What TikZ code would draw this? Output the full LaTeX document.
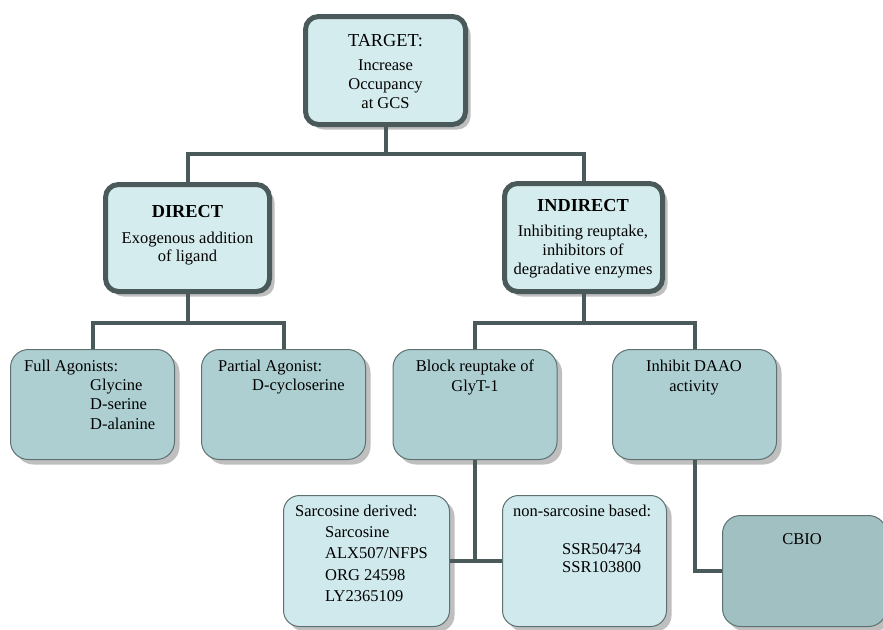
\documentclass[tikz,border=0pt]{standalone}
\usepackage{fontspec}
\setmainfont{Liberation Serif}
\usetikzlibrary{shadows}

\definecolor{linec}{HTML}{4A5959}
\definecolor{thinc}{HTML}{5E7070}
\definecolor{topfill}{HTML}{D5ECEE}
\definecolor{midfill}{HTML}{AECFD2}
\definecolor{lowfill}{HTML}{CFE9EC}
\definecolor{cbiofill}{HTML}{A0C0C2}
\definecolor{shadowc}{HTML}{BFBFBF}

\tikzset{
  boxshadow/.style={drop shadow={shadow xshift=5pt, shadow yshift=-5pt, fill=shadowc, opacity=1}},
  topbox/.style={draw=linec, line width=5pt, fill=topfill, rounded corners=13pt,
    inner sep=0, boxshadow},
  midbox/.style={draw=thinc, line width=1pt, fill=midfill, rounded corners=18pt,
    inner sep=0, minimum width=164pt, minimum height=110pt, boxshadow},
  lowbox/.style={draw=thinc, line width=1pt, fill=lowfill, rounded corners=16pt,
    inner sep=0, minimum height=131pt, boxshadow},
  conn/.style={draw=linec, line width=4pt},
  body/.style={inner sep=0, font=\fontsize{16.5}{19.5}\selectfont},
  ctext/.style={body, align=center, anchor=north},
  ltext/.style={body, align=left, anchor=north west},
  ttl/.style={inner sep=0, anchor=base, font=\fontsize{18.3}{20}\selectfont},
}

\begin{document}
\begin{tikzpicture}[x=1pt, y=-1pt]
\useasboundingbox (0,0) rectangle (883,629);

% ---- top level ----
\node[topbox, minimum width=160pt, minimum height=108pt] (target) at (385.5,70.5) {};
\node[ttl] (targetT) at (385.5,46) {TARGET:};
\node[ctext, font=\fontsize{16.5}{19}\selectfont] (targetB) at (385.5,56.7) {\strut Increase\\Occupancy\\at GCS};

% ---- second level ----
\node[topbox, minimum width=164pt, minimum height=107pt] (direct) at (187.5,238) {};
\node[ttl, font=\fontsize{18.3}{20}\selectfont\bfseries] (directT) at (187.5,217) {DIRECT};
\node[ctext, font=\fontsize{16.5}{18}\selectfont] (directB) at (187.5,230.4) {\strut Exogenous addition\\of ligand};

\node[topbox, minimum width=158pt, minimum height=108pt] (indirect) at (583.5,237.5) {};
\node[ttl, font=\fontsize{18.3}{20}\selectfont\bfseries] (indirectT) at (583,211.5) {INDIRECT};
\node[ctext, font=\fontsize{16.5}{18.7}\selectfont] (indirectB) at (583,223.6) {\strut Inhibiting reuptake,\\inhibitors of\\degradative enzymes};

% ---- third level ----
\node[midbox] (full) at (92.5,404.5) {};
\node[ltext] (fullT) at (24,358) {\strut Full Agonists:};
\node[ltext] (fullB) at (90,376.4) {\strut Glycine\\D-serine\\D-alanine};

\node[midbox] (partial) at (283.5,404.5) {};
\node[ltext] (partialT) at (218,358) {\strut Partial Agonist:};
\node[ltext] (partialB) at (252,376.4) {\strut D-cycloserine};

\node[midbox] (block) at (475,404.5) {};
\node[ctext] (blockT) at (475,358) {\strut Block reuptake of\\GlyT-1};

\node[midbox] (daao) at (694.5,404.5) {};
\node[ctext] (daaoT) at (694,358) {\strut Inhibit DAAO\\activity};

% ---- fourth level ----
\node[lowbox, minimum width=166pt] (sarc) at (366.5,561) {};
\node[ltext] (sarcT) at (295,502.4) {\strut Sarcosine derived:};
\node[ltext, font=\fontsize{16.5}{21.5}\selectfont] (sarcB) at (325,522) {\strut Sarcosine\\ALX507/NFPS\\ORG 24598\\LY2365109};

\node[lowbox, minimum width=164pt] (nonsarc) at (584.5,561) {};
\node[ltext] (nonsarcT) at (513,502.4) {\strut non-sarcosine based:};
\node[ltext, font=\fontsize{16.5}{18}\selectfont] (nonsarcB) at (562,541.4) {\strut SSR504734\\SSR103800};

\node[midbox, fill=cbiofill, minimum height=111pt] (cbio) at (804.5,571) {};
\node[ttl, font=\fontsize{16.5}{19.5}\selectfont] (cbioT) at (802,544) {CBIO};

% ---- connectors ----
\coordinate (j1) at (385.5,154);
\draw[conn] (target.south) -- (j1);
\draw[conn] (direct.north) |- (j1) -| (indirect.north);

\coordinate (j2) at (187.5,323);
\draw[conn] (direct.south) -- (j2);
\draw[conn] (full.north) |- (j2) -| (partial.north);

\coordinate (j3) at (583.5,323);
\draw[conn] (indirect.south) -- (j3);
\draw[conn] (block.north) |- (j3) -| (daao.north);

\draw[conn] (block.south) -- (block.south |- sarc.east);
\draw[conn] (sarc.east) -- (nonsarc.west);

\draw[conn] (daao.south) |- (cbio.west);
\end{tikzpicture}
\end{document}
